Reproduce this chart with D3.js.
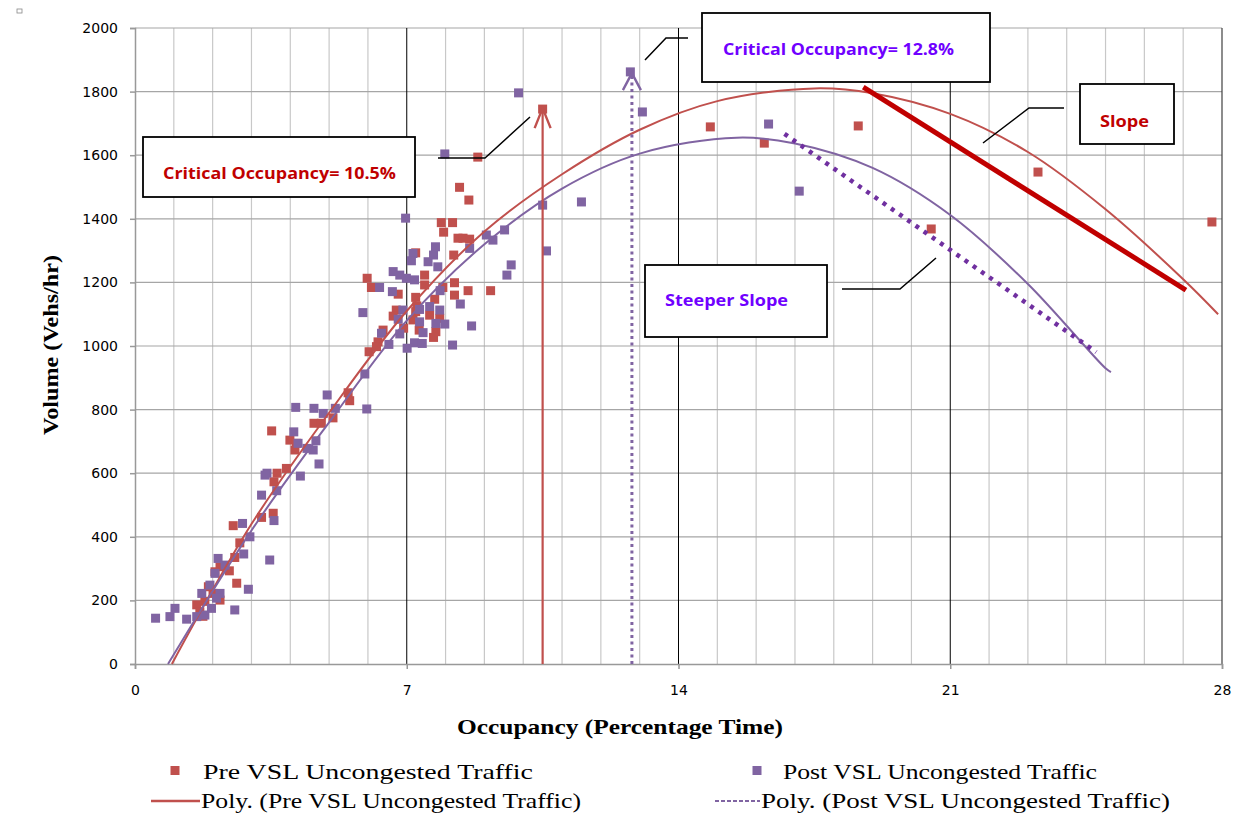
<!DOCTYPE html>
<html>
<head>
<meta charset="utf-8">
<script src="https://cdn.jsdelivr.net/npm/d3@7"></script>
<style>
  body { margin: 0; background: #fff; }
  svg { display: block; }
</style>
</head>
<body>
<script>
// Pre VSL uncongested traffic: [occupancy %, volume veh/hr]
var preVSL = [
  [10.5,1745],[14.82,1689],[16.21,1638],[18.63,1692],[20.51,1368],[23.26,1547],[27.74,1390],
  [8.83,1594],[8.36,1499],[8.6,1459],[7.89,1388],[8.18,1388],[7.95,1358],[8.32,1339],[8.45,1339],
  [8.62,1336],[7.23,1293],[8.21,1286],[5.98,1213],[6.09,1184],[7.46,1223],[7.46,1192],[6.78,1163],
  [7.93,1184],[8.23,1199],[8.58,1174],[9.16,1174],[8.23,1160],[7.23,1153],[7.72,1147],[7.26,1126],
  [6.73,1113],[6.65,1094],[7.59,1097],[7.23,1108],[7.16,1082],[7.85,1087],[6.92,1056],[7.32,1050],
  [7.75,1045],[7.69,1027],[6.39,1050],[6.26,1013],[6.03,982],[6.22,998],[5.49,853],[5.53,828],
  [5.1,774],[3.52,733],[3.99,704],[4.16,694],[4.12,673],[3.66,600],[3.9,615],[3.58,573],[3.56,474],
  [3.26,461],[2.53,435],[4.61,757],[4.8,757],[2.7,381],[2.57,335],[2.43,293],[2.62,254],[2.19,201],
  [2.01,222],[1.89,243],[1.59,186],[1.67,164],[2.19,306],[2.06,290],[1.8,197],[1.75,150]
];

// Post VSL uncongested traffic
var postVSL = [
  [9.88,1796],[12.76,1862],[13.07,1736],[16.32,1698],[17.11,1487],[11.5,1453],[10.5,1443],[10.6,1299],
  [7.98,1604],[9.69,1255],[9.58,1223],[9.52,1365],[9.22,1333],[9.05,1349],[8.67,1063],[8.18,1003],
  [6.97,1402],[7.74,1312],[7.16,1291],[7.69,1286],[7.12,1268],[7.55,1265],[7.8,1249],[8.62,1307],
  [6.65,1234],[6.82,1223],[6.99,1213],[7.2,1208],[6.3,1184],[6.63,1171],[7.86,1174],[8.38,1132],
  [5.87,1105],[6.9,1113],[7.33,1115],[7.59,1124],[7.85,1113],[6.78,1084],[7.33,1076],[7.75,1071],
  [7.98,1069],[6.35,1040],[6.82,1038],[7.42,1042],[6.54,1005],[7.2,1010],[7.4,1008],[7.01,993],
  [5.92,912],[5.97,802],[4.95,846],[4.14,807],[4.61,804],[4.85,788],[5.16,804],[4.09,730],[4.2,694],
  [4.43,678],[4.59,673],[4.66,702],[4.74,629],[4.26,591],[3.4,600],[3.35,594],[3.65,545],[3.26,531],
  [3.58,451],[2.77,442],[2.96,400],[2.8,346],[2.14,332],[3.47,327],[2.06,285],[2.32,311],[1.93,248],
  [1.72,222],[2.19,222],[2.1,207],[2.92,235],[2.57,170],[1.97,175],[1.8,154],[1.59,149],[1.33,141],
  [1.03,175],[0.9,149],[0.53,144]
];

// polynomial trendlines
var prePoly = [[0.95,0],[3,440],[5,790],[7,1110],[9,1360],[11,1540],[13,1680],[15,1770],[17.5,1810],
  [19,1795],[21,1730],[23,1610],[25,1430],[27,1210],[27.9,1100]];
var postPoly = [[0.85,0],[3,420],[5,760],[7,1080],[9,1320],[11,1495],[13,1605],[15.5,1655],[17,1637],
  [19,1560],[21,1412],[23,1195],[25,930],[25.14,918]];

// critical occupancy arrows and slope lines
var preCritical = [[10.5,0],[10.5,1748]];
var postCritical = [[12.8,0],[12.8,1858]];
var preSlope = [[18.76,1814],[27.07,1176]];
var postSlope = [[16.73,1667],[24.76,981]];

var xTicks = [0, 7, 14, 21, 28];
var yTicks = d3.range(0, 2001, 200);
var xMinor = d3.range(0, 29, 1);

var W = 1237, H = 815;
var red = "#C0504D", purple = "#8064A2";
var darkRed = "#C00000", violet = "#7000FF", darkPurple = "#7030A0";

var svg = d3.select("body").append("svg")
  .attr("width", W)
  .attr("height", H);

var x = d3.scaleLinear().domain([0, 28]).range([135, 1222]);
var y = d3.scaleLinear().domain([0, 2000]).range([664, 28]);

// tiny marker in the corner
svg.append("rect")
  .attr("x", 17).attr("y", 9).attr("width", 5).attr("height", 4)
  .attr("fill", "none").attr("stroke", "#888").attr("stroke-width", 0.8);

// grid
svg.append("g").selectAll("line")
  .data(xMinor.filter(function(d) { return d % 7 != 0; }))
  .enter().append("line")
  .attr("x1", function(d) { return x(d); }).attr("x2", function(d) { return x(d); })
  .attr("y1", y(0)).attr("y2", y(2000))
  .attr("stroke", "#c8c8c8").attr("stroke-width", 1.2);

svg.append("g").selectAll("line")
  .data(yTicks.slice(1))
  .enter().append("line")
  .attr("x1", x(0)).attr("x2", x(28))
  .attr("y1", function(d) { return y(d); }).attr("y2", function(d) { return y(d); })
  .attr("stroke", "#a6a6a6").attr("stroke-width", 1.2);

svg.append("g").selectAll("line")
  .data([7, 14, 21])
  .enter().append("line")
  .attr("x1", function(d) { return x(d); }).attr("x2", function(d) { return x(d); })
  .attr("y1", y(0)).attr("y2", y(2000))
  .attr("stroke", "#000").attr("stroke-width", 1);

svg.append("line")
  .attr("x1", x(28)).attr("x2", x(28)).attr("y1", y(0)).attr("y2", y(2000))
  .attr("stroke", "#404040").attr("stroke-width", 1.2);

// axes
var yAxis = svg.append("g")
  .attr("transform", "translate(" + x(0) + ",0)")
  .call(d3.axisLeft(y).tickValues(yTicks).tickSize(5).tickPadding(12).tickFormat(d3.format("d")));
var xAxis = svg.append("g")
  .attr("transform", "translate(0," + y(0) + ")")
  .call(d3.axisBottom(x).tickValues(xTicks).tickSize(5).tickPadding(16));
[xAxis, yAxis].forEach(function(a) {
  a.select(".domain").attr("stroke", "#999").attr("stroke-width", 1.5);
  a.selectAll(".tick line").attr("stroke", "#999").attr("stroke-width", 1.5);
  a.selectAll(".tick text").attr("font-family", "DejaVu Sans").attr("font-size", 14).attr("fill", "#000");
});

svg.append("text")
  .attr("x", 620).attr("y", 734)
  .attr("text-anchor", "middle")
  .attr("font-family", "Liberation Serif").attr("font-weight", "bold").attr("font-size", 21)
  .attr("textLength", 326).attr("lengthAdjust", "spacingAndGlyphs")
  .text("Occupancy (Percentage Time)");

svg.append("text")
  .attr("transform", "translate(58,345) rotate(-90)")
  .attr("text-anchor", "middle")
  .attr("font-family", "Liberation Serif").attr("font-weight", "bold").attr("font-size", 21)
  .attr("textLength", 180).attr("lengthAdjust", "spacingAndGlyphs")
  .text("Volume (Vehs/hr)");

// scatter
function drawPoints(data, color) {
  svg.append("g").selectAll("rect")
    .data(data)
    .enter().append("rect")
    .attr("x", function(d) { return x(d[0]) - 4.5; })
    .attr("y", function(d) { return y(d[1]) - 4.5; })
    .attr("width", 9).attr("height", 9)
    .attr("fill", color);
}
drawPoints(preVSL, red);
drawPoints(postVSL, purple);

// trendlines
var line = d3.line()
  .x(function(d) { return x(d[0]); })
  .y(function(d) { return y(d[1]); })
  .curve(d3.curveCatmullRom);

svg.append("path").attr("d", line(prePoly))
  .attr("fill", "none").attr("stroke", red).attr("stroke-width", 2);
svg.append("path").attr("d", line(postPoly))
  .attr("fill", "none").attr("stroke", purple).attr("stroke-width", 2);

// critical occupancy arrows
var straight = d3.line()
  .x(function(d) { return x(d[0]); })
  .y(function(d) { return y(d[1]); });

function arrow(pts, color, dash, sw, hw, hl) {
  svg.append("path").attr("d", straight(pts))
    .attr("stroke", color).attr("stroke-width", sw).attr("fill", "none")
    .attr("stroke-dasharray", dash);
  var tx = x(pts[1][0]), ty = y(pts[1][1]);
  svg.append("path")
    .attr("d", "M" + (tx - hw) + "," + (ty + hl) + "L" + tx + "," + ty + "L" + (tx + hw) + "," + (ty + hl))
    .attr("stroke", color).attr("stroke-width", 2.4).attr("fill", "none");
}
arrow(preCritical, red, null, 2.2, 8, 20);
arrow(postCritical, purple, "3,3.5", 3, 9, 17);

// slope lines
svg.append("path").attr("d", straight(preSlope))
  .attr("stroke", darkRed).attr("stroke-width", 5).attr("fill", "none");
svg.append("path").attr("d", straight(postSlope))
  .attr("stroke", darkPurple).attr("stroke-width", 4.5).attr("fill", "none")
  .attr("stroke-dasharray", "4,6");

// callouts
var callouts = [
  { box: [143, 137, 272, 60], text: "Critical Occupancy= 10.5%", tx: 163, ty: 179, tl: 233, color: darkRed,
    leader: [[438,158],[485,158],[530,117]] },
  { box: [702, 13, 288, 69], text: "Critical Occupancy= 12.8%", tx: 723, ty: 55, tl: 231, color: violet,
    leader: [[645,60],[666,38],[688,38]] },
  { box: [1080, 84, 94, 60], text: "Slope", tx: 1100, ty: 127, tl: 49, color: darkRed,
    leader: [[983,143],[1029,108],[1064,108]] },
  { box: [645, 265, 182, 72], text: "Steeper Slope", tx: 665, ty: 306, tl: 123, color: violet,
    leader: [[842,289],[900,289],[936,258]] }
];

callouts.forEach(function(c) {
  svg.append("path").attr("d", d3.line()(c.leader))
    .attr("stroke", "#000").attr("stroke-width", 1.5).attr("fill", "none");
  svg.append("rect")
    .attr("x", c.box[0]).attr("y", c.box[1]).attr("width", c.box[2]).attr("height", c.box[3])
    .attr("fill", "#fff").attr("stroke", "#000").attr("stroke-width", 1.8);
  svg.append("text")
    .attr("x", c.tx).attr("y", c.ty)
    .attr("font-family", "Open Sans").attr("font-weight", "bold").attr("font-size", 16)
    .attr("fill", c.color)
    .attr("textLength", c.tl).attr("lengthAdjust", "spacingAndGlyphs")
    .text(c.text);
});

// legend
var legend = [
  { kind: "square", color: red, text: "Pre VSL Uncongested Traffic", sx: 175, tx: 203, ty: 779, tl: 330 },
  { kind: "square", color: purple, text: "Post VSL Uncongested Traffic", sx: 757, tx: 783, ty: 779, tl: 314 },
  { kind: "line", color: red, text: "Poly. (Pre VSL Uncongested Traffic)", sx: 151, tx: 201, ty: 808, tl: 380 },
  { kind: "dash", color: purple, text: "Poly. (Post VSL Uncongested Traffic)", sx: 715, tx: 761, ty: 808, tl: 409 }
];

legend.forEach(function(l) {
  if (l.kind == "square") {
    svg.append("rect").attr("x", l.sx - 4.5).attr("y", l.ty - 13).attr("width", 9).attr("height", 9)
      .attr("fill", l.color);
  } else {
    svg.append("line").attr("x1", l.sx).attr("x2", l.tx - 1).attr("y1", l.ty - 7).attr("y2", l.ty - 7)
      .attr("stroke", l.color).attr("stroke-width", l.kind == "line" ? 2.5 : 2)
      .attr("stroke-dasharray", l.kind == "dash" ? "4,2" : null);
  }
  svg.append("text")
    .attr("x", l.tx).attr("y", l.ty)
    .attr("font-family", "Liberation Serif").attr("font-size", 22)
    .attr("textLength", l.tl).attr("lengthAdjust", "spacingAndGlyphs")
    .text(l.text);
});
</script>
</body>
</html>
